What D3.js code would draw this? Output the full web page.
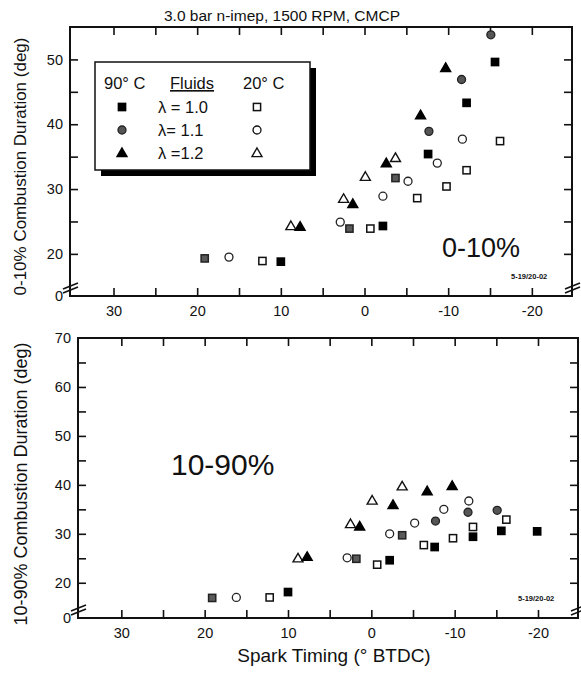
<!DOCTYPE html>
<html>
<head>
<meta charset="utf-8">
<script src="https://cdn.jsdelivr.net/npm/d3@7"></script>
<style>
  body { margin: 0; background: #fff; }
  svg text { font-family: "Liberation Sans", Arial, sans-serif; fill: #111; }
</style>
</head>
<body>
<div id="chart"></div>
<script>
// spark timing (deg BTDC) and durations
// 90 C, lambda = 1.0 (black squares)
var sq90Timing = [10, -2.2, -7.6, -12.2, -15.6, -19.9];
var sq90Early = [18.8, 24.3, 35.4, 43.3, 49.6, null];
var sq90Main = [18.1, 24.6, 27.3, 29.4, 30.6, 30.5];
// grey squares (90 C, lambda = 1.0 repeat points)
var sqGreyTiming = [19.1, 1.8, -3.7];
var sqGreyEarly = [19.3, 23.9, 31.7];
var sqGreyMain = [16.9, 24.9, 29.7];
// 90 C, lambda = 1.1
var circ90Timing = [-7.7, -11.6, -15.1];
var circ90Early = [38.9, 46.9, 53.8];
var circ90Main = [32.6, 34.4, 34.8];
// 90 C, lambda = 1.2
var tri90Timing = [7.7, 1.4, -2.6, -6.7, -9.7];
var tri90Early = [24.2, 27.7, 34.0, 41.4, 48.7];
var tri90Main = [25.3, 31.5, 35.9, 38.7, 39.8];
// 20 C, lambda = 1.0
var sq20Timing = [12.2, -0.7, -6.3, -9.8, -12.2, -16.2];
var sq20Early = [18.9, 23.9, 28.6, 30.4, 32.9, 37.4];
var sq20Main = [17.0, 23.7, 27.7, 29.1, 31.4, 32.9];
// 20 C, lambda = 1.1
var circ20Timing = [16.2, 2.9, -2.2, -5.2, -8.7, -11.7];
var circ20Early = [19.5, 24.9, 28.9, 31.2, 34.0, 37.7];
var circ20Main = [17.0, 25.1, 30.0, 32.2, 35.0, 36.7];
// 20 C, lambda = 1.2
var tri20Timing = [8.8, 2.5, -0.1, -3.7];
var tri20Early = [24.3, 28.5, 31.9, 34.8];
var tri20Main = [25.0, 32.0, 36.8, 39.7];

var xTicks = [30, 25, 20, 15, 10, 5, 0, -5, -10, -15, -20];
var xLabels = [30, 20, 10, 0, -10, -20];
var yTicksTop = [20, 25, 30, 35, 40, 45, 50];
var yLabelsTop = [20, 30, 40, 50];
var yTicksBottom = [20, 25, 30, 35, 40, 45, 50, 55, 60, 65];
var yLabelsBottom = [20, 30, 40, 50, 60, 70];

var legendRows = ["\u03bb = 1.0", "\u03bb= 1.1", "\u03bb =1.2"];

var series = [
  {x: sqGreyTiming, top: sqGreyEarly, bot: sqGreyMain, shape: "square", fill: "#5a5a5a", stroke: "#222"},
  {x: sq20Timing, top: sq20Early, bot: sq20Main, shape: "square", fill: "#fff", stroke: "#111"},
  {x: circ20Timing, top: circ20Early, bot: circ20Main, shape: "circle", fill: "#fff", stroke: "#222"},
  {x: tri20Timing, top: tri20Early, bot: tri20Main, shape: "triangle", fill: "#fff", stroke: "#111"},
  {x: sq90Timing, top: sq90Early, bot: sq90Main, shape: "square", fill: "#000", stroke: "#000"},
  {x: circ90Timing, top: circ90Early, bot: circ90Main, shape: "circle", fill: "#555", stroke: "#222"},
  {x: tri90Timing, top: tri90Early, bot: tri90Main, shape: "triangle", fill: "#000", stroke: "#000"}
];

var svg = d3.select("#chart").append("svg")
  .attr("width", 581)
  .attr("height", 673);

var fmt = function(d) { return d < 0 ? "-" + Math.abs(d) : String(d); };

function marker(g, shape, cx, cy, fill, stroke) {
  if (shape === "square") {
    g.append("rect").attr("x", cx - 3.6).attr("y", cy - 3.6)
      .attr("width", 7.2).attr("height", 7.2)
      .attr("fill", fill).attr("stroke", stroke).attr("stroke-width", 1.5);
  } else if (shape === "circle") {
    g.append("circle").attr("cx", cx).attr("cy", cy).attr("r", 4)
      .attr("fill", fill).attr("stroke", stroke).attr("stroke-width", 1.3);
  } else {
    g.append("path")
      .attr("d", "M" + cx + "," + (cy - 5) + "L" + (cx + 5) + "," + (cy + 3.6) + "L" + (cx - 5) + "," + (cy + 3.6) + "Z")
      .attr("fill", fill).attr("stroke", stroke).attr("stroke-width", 1.4)
      .attr("stroke-linejoin", "miter");
  }
}

function breakMark(g, x, y) {
  [0, 4].forEach(function(o) {
    g.append("line")
      .attr("x1", x - 7).attr("y1", y + 3 - o)
      .attr("x2", x + 8).attr("y2", y - 3 - o)
      .attr("stroke", "#111").attr("stroke-width", 1.6);
  });
}

function drawPanel(p) {
  var x = d3.scaleLinear().domain([35.2, -24.8]).range([p.left, p.right]);
  var y = d3.scaleLinear().domain(p.yDomain).range([p.bottom, p.top]);
  var g = svg.append("g");

  // frame
  g.append("rect")
    .attr("x", p.left).attr("y", p.top)
    .attr("width", p.right - p.left).attr("height", p.bottom - p.top)
    .attr("fill", "none").attr("stroke", "#111").attr("stroke-width", 2);

  var bottomAxis = d3.axisBottom(x).tickValues(xTicks).tickSize(-8).tickPadding(10)
    .tickFormat(function(d) { return xLabels.indexOf(d) >= 0 ? fmt(d) : ""; });
  var topAxis = d3.axisTop(x).tickValues(xTicks).tickSize(-8).tickFormat("");
  var leftAxis = d3.axisLeft(y).tickValues(p.yTicks).tickSize(-8).tickPadding(7)
    .tickFormat(function(d) { return p.yLabels.indexOf(d) >= 0 ? d : ""; });
  var rightAxis = d3.axisRight(y).tickValues(p.yTicks).tickSize(-8).tickFormat("");

  var axes = [
    g.append("g").attr("transform", "translate(0," + p.bottom + ")").call(bottomAxis),
    g.append("g").attr("transform", "translate(0," + p.top + ")").call(topAxis),
    g.append("g").attr("transform", "translate(" + p.left + ",0)").call(leftAxis),
    g.append("g").attr("transform", "translate(" + p.right + ",0)").call(rightAxis)
  ];
  axes.forEach(function(a) {
    a.select(".domain").remove();
    a.selectAll(".tick line").attr("stroke", "#111").attr("stroke-width", 1.6);
    a.selectAll("text").attr("font-size", 14.5).attr("fill", "#111");
  });

  // labels at the broken bottom / top corner
  g.append("text").attr("x", p.left - 7).attr("y", p.bottom + 5)
    .attr("text-anchor", "end").attr("font-size", 14.5).text("0");
  if (p.topLabel) {
    g.append("text").attr("x", p.left - 7).attr("y", p.top + 5)
      .attr("text-anchor", "end").attr("font-size", 14.5).text(p.topLabel);
  }
  breakMark(g, p.left, p.bottom - 6);
  breakMark(g, p.right, p.bottom - 6);

  // y title
  g.append("text")
    .attr("transform", "translate(" + p.titleX + "," + ((p.top + p.bottom) / 2 + p.titleShift) + ") rotate(-90)")
    .attr("text-anchor", "middle").attr("font-size", p.titleSize).text(p.yTitle);

  // points
  var pts = g.append("g");
  series.forEach(function(s) {
    var vals = s[p.key];
    s.x.forEach(function(t, i) {
      if (vals[i] == null) return;
      marker(pts, s.shape, x(t), y(vals[i]), s.fill, s.stroke);
    });
  });

  g.append("text").attr("x", p.tagX).attr("y", p.tagY)
    .attr("font-size", p.tagSize).text(p.tag);
  g.append("text").attr("x", p.dateX).attr("y", p.dateY)
    .attr("font-size", 7.5).attr("font-weight", "bold").text("5-19/20-02");
  return g;
}

drawPanel({
  key: "top", left: 70, right: 572, top: 27, bottom: 296,
  yDomain: [13.5, 55], yTicks: yTicksTop, yLabels: yLabelsTop, topLabel: null,
  yTitle: "0-10% Combustion Duration (deg)", titleX: 26, titleShift: 5, titleSize: 17,
  tag: "0-10%", tagX: 442, tagY: 257, tagSize: 27,
  dateX: 511, dateY: 279
});

drawPanel({
  key: "bot", left: 78, right: 578, top: 338, bottom: 618,
  yDomain: [12.8, 70], yTicks: yTicksBottom, yLabels: yLabelsBottom, topLabel: "70",
  yTitle: "10-90% Combustion Duration (deg)", titleX: 27, titleShift: 6, titleSize: 18,
  tag: "10-90%", tagX: 171, tagY: 475, tagSize: 30,
  dateX: 518, dateY: 601
});

// chart title
svg.append("text").attr("x", 282).attr("y", 21).attr("text-anchor", "middle")
  .attr("font-size", 15.5).text("3.0 bar n-imep, 1500 RPM, CMCP");

// x title
svg.append("text").attr("x", 334).attr("y", 662).attr("text-anchor", "middle")
  .attr("font-size", 19).text("Spark Timing (\u00b0 BTDC)");

// legend box with drop shadow
var lg = svg.append("g");
lg.append("rect").attr("x", 101).attr("y", 68).attr("width", 215).attr("height", 108).attr("fill", "#000");
lg.append("rect").attr("x", 95).attr("y", 62).attr("width", 215).attr("height", 108)
  .attr("fill", "#fff").attr("stroke", "#111").attr("stroke-width", 1.5);
lg.append("text").attr("x", 104).attr("y", 89).attr("font-size", 16.5).text("90\u00b0 C");
lg.append("text").attr("x", 170).attr("y", 89).attr("font-size", 16.5)
  .attr("text-decoration", "underline").text("Fluids");
lg.append("text").attr("x", 243).attr("y", 89).attr("font-size", 16.5).text("20\u00b0 C");
var rowShapes = ["square", "circle", "triangle"];
legendRows.forEach(function(label, i) {
  var cy = 107 + i * 23;
  marker(lg, rowShapes[i], 122, cy, i === 1 ? "#555" : "#000", i === 1 ? "#222" : "#000");
  marker(lg, rowShapes[i], 257, cy, "#fff", "#111");
  lg.append("text").attr("x", 158).attr("y", cy + 6).attr("font-size", 16.5).text(label);
});
</script>
</body>
</html>
